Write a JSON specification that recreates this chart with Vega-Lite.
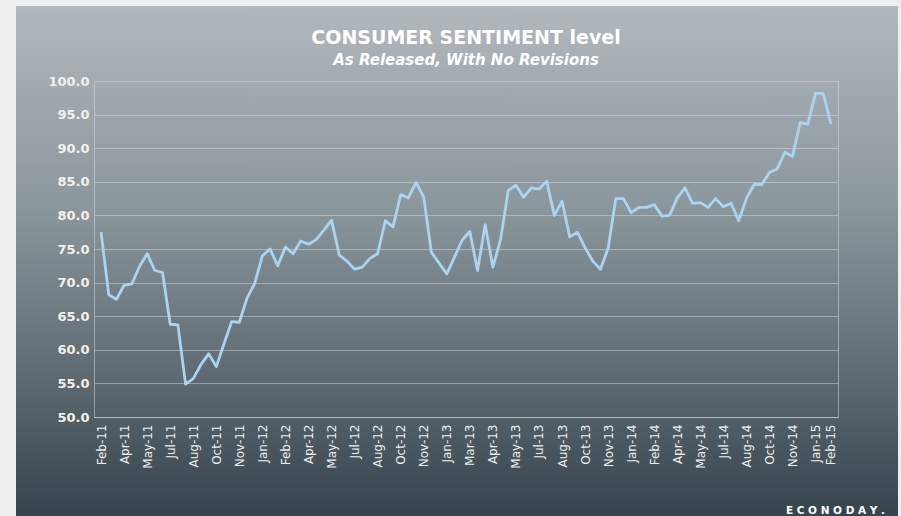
{
  "$schema": "https://vega.github.io/schema/vega-lite/v6.json",
  "width": 882,
  "height": 510,
  "autosize": {"type": "none"},
  "padding": {"left": 16, "top": 6, "right": 3, "bottom": 0},
  "background": "#eeeeee",
  "view": {
    "stroke": null,
    "fill": {
      "gradient": "linear",
      "x1": 0, "y1": 0, "x2": 0, "y2": 1,
      "stops": [
        {"offset": 0, "color": "#b1b8be"},
        {"offset": 0.4, "color": "#8b959c"},
        {"offset": 0.75, "color": "#5b666e"},
        {"offset": 1, "color": "#36444d"}
      ]
    }
  },
  "title": {
    "text": "CONSUMER SENTIMENT level",
    "subtitle": "As Released, With No Revisions",
    "anchor": "middle",
    "offset": -62,
    "dx": 9,
    "font": "DejaVu Sans",
    "fontSize": 19,
    "fontWeight": "bold",
    "color": "#ffffff",
    "subtitleFont": "DejaVu Sans",
    "subtitleFontSize": 15,
    "subtitleFontWeight": "bold",
    "subtitleFontStyle": "italic",
    "subtitleColor": "#ffffff",
    "subtitlePadding": 5
  },
  "data": {
    "values": [
      {"i": 0, "v": 77.5}, {"i": 1, "v": 68.2}, {"i": 2, "v": 67.5}, {"i": 3, "v": 69.6},
      {"i": 4, "v": 69.8}, {"i": 5, "v": 72.4}, {"i": 6, "v": 74.3}, {"i": 7, "v": 71.8},
      {"i": 8, "v": 71.5}, {"i": 9, "v": 63.8}, {"i": 10, "v": 63.7}, {"i": 11, "v": 54.9},
      {"i": 12, "v": 55.7}, {"i": 13, "v": 57.8}, {"i": 14, "v": 59.4}, {"i": 15, "v": 57.5},
      {"i": 16, "v": 60.9}, {"i": 17, "v": 64.2}, {"i": 18, "v": 64.1}, {"i": 19, "v": 67.7},
      {"i": 20, "v": 69.9}, {"i": 21, "v": 74.0}, {"i": 22, "v": 75.0}, {"i": 23, "v": 72.5},
      {"i": 24, "v": 75.3}, {"i": 25, "v": 74.3}, {"i": 26, "v": 76.2}, {"i": 27, "v": 75.7},
      {"i": 28, "v": 76.4}, {"i": 29, "v": 77.8}, {"i": 30, "v": 79.3}, {"i": 31, "v": 74.1},
      {"i": 32, "v": 73.2}, {"i": 33, "v": 72.0}, {"i": 34, "v": 72.3}, {"i": 35, "v": 73.6},
      {"i": 36, "v": 74.3}, {"i": 37, "v": 79.2}, {"i": 38, "v": 78.3}, {"i": 39, "v": 83.1},
      {"i": 40, "v": 82.6}, {"i": 41, "v": 84.9}, {"i": 42, "v": 82.7}, {"i": 43, "v": 74.5},
      {"i": 44, "v": 72.9}, {"i": 45, "v": 71.3}, {"i": 46, "v": 73.8}, {"i": 47, "v": 76.3},
      {"i": 48, "v": 77.6}, {"i": 49, "v": 71.8}, {"i": 50, "v": 78.6}, {"i": 51, "v": 72.3},
      {"i": 52, "v": 76.4}, {"i": 53, "v": 83.7}, {"i": 54, "v": 84.5}, {"i": 55, "v": 82.7},
      {"i": 56, "v": 84.1}, {"i": 57, "v": 83.9}, {"i": 58, "v": 85.1}, {"i": 59, "v": 80.0},
      {"i": 60, "v": 82.1}, {"i": 61, "v": 76.8}, {"i": 62, "v": 77.5}, {"i": 63, "v": 75.2},
      {"i": 64, "v": 73.2}, {"i": 65, "v": 72.0}, {"i": 66, "v": 75.1}, {"i": 67, "v": 82.5},
      {"i": 68, "v": 82.5}, {"i": 69, "v": 80.4}, {"i": 70, "v": 81.2}, {"i": 71, "v": 81.2},
      {"i": 72, "v": 81.6}, {"i": 73, "v": 79.9}, {"i": 74, "v": 80.0}, {"i": 75, "v": 82.6},
      {"i": 76, "v": 84.1}, {"i": 77, "v": 81.8}, {"i": 78, "v": 81.9}, {"i": 79, "v": 81.2},
      {"i": 80, "v": 82.5}, {"i": 81, "v": 81.3}, {"i": 82, "v": 81.8}, {"i": 83, "v": 79.2},
      {"i": 84, "v": 82.5}, {"i": 85, "v": 84.6}, {"i": 86, "v": 84.6}, {"i": 87, "v": 86.4},
      {"i": 88, "v": 86.9}, {"i": 89, "v": 89.4}, {"i": 90, "v": 88.8}, {"i": 91, "v": 93.8},
      {"i": 92, "v": 93.6}, {"i": 93, "v": 98.2}, {"i": 94, "v": 98.1}, {"i": 95, "v": 93.6}
    ]
  },
  "encoding": {
    "x": {
      "field": "i",
      "type": "quantitative",
      "scale": {"domain": [-0.92, 95.92], "range": [78, 822], "nice": false, "zero": false},
      "axis": {
        "orient": "bottom",
        "offset": -99,
        "values": [0, 3, 6, 9, 12, 15, 18, 21, 24, 27, 30, 33, 36, 39, 42, 45, 48, 51, 54, 57, 60, 63, 66, 69, 72, 75, 78, 81, 84, 87, 90, 93, 95],
        "labelExpr": "['Feb-11','Apr-11','May-11','Jul-11','Aug-11','Oct-11','Nov-11','Jan-12','Feb-12','Apr-12','May-12','Jul-12','Aug-12','Oct-12','Nov-12','Jan-13','Mar-13','Apr-13','May-13','Jul-13','Aug-13','Oct-13','Nov-13','Jan-14','Feb-14','Apr-14','May-14','Jul-14','Aug-14','Oct-14','Nov-14','Jan-15','Feb-15'][round(datum.value/3)]",
        "labelAngle": 270,
        "labelFont": "DejaVu Sans",
        "labelFontSize": 12,
        "labelColor": "#eeeeee",
        "labelPadding": 7,
        "labelOverlap": false,
        "labelFlush": false,
        "labelBound": false,
        "ticks": false,
        "grid": false,
        "domainColor": "#d8dde1",
        "domainOpacity": 0.5,
        "domainWidth": 1,
        "title": "E C O N O D A Y .",
        "titleX": 819,
        "titleY": 93,
        "titleAlign": "center",
        "titleBaseline": "middle",
        "titleColor": "#ffffff",
        "titleFont": "DejaVu Sans",
        "titleFontSize": 10.5,
        "titleFontWeight": "bold"
      }
    }
  },
  "layer": [
    {
      "mark": {"type": "line", "color": "#a9d4f2", "strokeWidth": 2.8, "strokeJoin": "round"},
      "encoding": {
        "y": {
          "field": "v",
          "type": "quantitative",
          "scale": {"domain": [50, 100], "range": [411, 75], "nice": false, "zero": false},
          "axis": {
            "orient": "left",
            "offset": -78,
            "values": [50, 55, 60, 65, 70, 75, 80, 85, 90, 95, 100],
            "format": ".1f",
            "labelFont": "DejaVu Sans",
            "labelFontSize": 13,
            "labelFontWeight": "bold",
            "labelColor": "#f4f1ea",
            "labelPadding": 5,
            "ticks": false,
            "grid": true,
            "gridColor": "#dde2e6",
            "gridOpacity": 0.45,
            "gridWidth": 1,
            "domainColor": "#d8dde1",
            "domainOpacity": 0.5,
            "domainWidth": 1,
            "title": null
          }
        }
      }
    },
    {
      "mark": {"type": "line", "opacity": 0},
      "encoding": {
        "y": {
          "field": "v",
          "type": "quantitative",
          "axis": {
            "orient": "right",
            "offset": -60,
            "labels": false,
            "ticks": false,
            "grid": false,
            "domainColor": "#d8dde1",
            "domainOpacity": 0.5,
            "domainWidth": 1,
            "title": null
          }
        }
      }
    }
  ],
  "resolve": {"axis": {"y": "independent"}}
}
